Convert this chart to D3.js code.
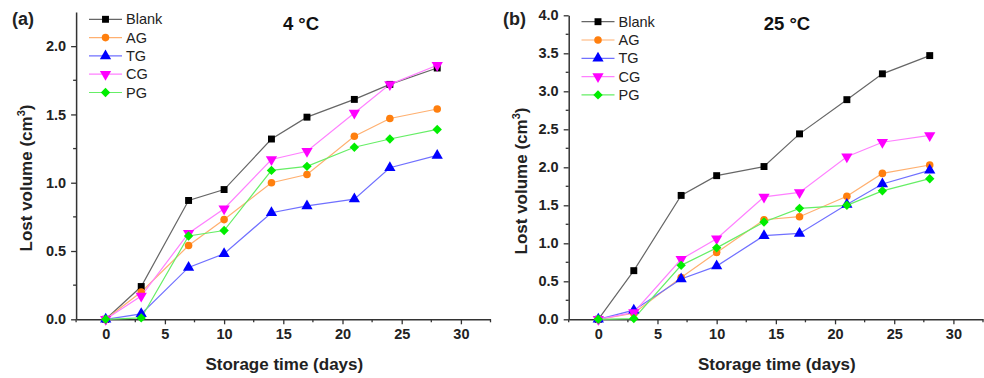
<!DOCTYPE html>
<html>
<head>
<meta charset="utf-8">
<script src="https://cdn.jsdelivr.net/npm/d3@7"></script>
<style>
  body { margin: 0; background: #fff; }
  svg { font-family: Arial, "Liberation Sans", sans-serif; }
</style>
</head>
<body>
<svg id="chart" width="984" height="378"></svg>
<script>
// storage days
const days = [0, 3, 7, 10, 14, 17, 21, 24, 28];
const seriesNames = ["Blank", "AG", "TG", "CG", "PG"];

// 4 °C
const blank4 = [0, 0.24, 0.87, 0.95, 1.32, 1.48, 1.61, 1.72, 1.84];
const ag4    = [0, 0.20, 0.54, 0.73, 1.00, 1.06, 1.34, 1.47, 1.54];
const tg4    = [0, 0.04, 0.38, 0.48, 0.78, 0.83, 0.88, 1.11, 1.20];
const cg4    = [0, 0.17, 0.63, 0.81, 1.17, 1.23, 1.51, 1.72, 1.86];
const pg4    = [0, 0.01, 0.61, 0.65, 1.09, 1.12, 1.26, 1.32, 1.39];

// 25 °C
const blank25 = [0, 0.64, 1.63, 1.89, 2.01, 2.44, 2.89, 3.23, 3.47];
const ag25    = [0, 0.08, 0.55, 0.88, 1.31, 1.35, 1.62, 1.92, 2.03];
const tg25    = [0, 0.12, 0.53, 0.70, 1.10, 1.13, 1.51, 1.78, 1.96];
const cg25    = [0, 0.09, 0.79, 1.06, 1.61, 1.67, 2.14, 2.33, 2.42];
const pg25    = [0, 0.01, 0.71, 0.94, 1.28, 1.46, 1.50, 1.69, 1.85];

const xTicks = [0, 5, 10, 15, 20, 25, 30];
const yTicks4 = [0, 0.5, 1.0, 1.5, 2.0];
const yTicks25 = [0, 0.5, 1.0, 1.5, 2.0, 2.5, 3.0, 3.5, 4.0];

const colors = ["#000000", "#ff7f0e", "#0000ff", "#ff00ff", "#00ee00"];
const lineColors = ["#666666", "#ffb070", "#7070ff", "#ff80ff", "#66ee66"];

const svg = d3.select("#chart");

function markerPath(k) {
  const types = [d3.symbolSquare, d3.symbolCircle, d3.symbolTriangle, d3.symbolTriangle, d3.symbolDiamond2];
  const sizes = [48, 45, 55, 55, 56];
  return d3.symbol().type(types[k]).size(sizes[k])();
}

function markerTransform(k, px, py) {
  // CG uses a downward triangle
  return `translate(${px},${py})` + (k === 3 ? " scale(1,-1)" : "");
}

function drawPanel(opt) {
  const g = svg.append("g");
  const x = d3.scaleLinear().domain([-2.5, 32.5]).range([opt.left, opt.right]);
  const y = d3.scaleLinear().domain([0, opt.ymax]).range([319.3, opt.top]);

  // x axis
  const xAxis = g.append("g")
    .attr("transform", `translate(0,${y(0)})`)
    .call(d3.axisBottom(x).tickValues(xTicks).tickSize(5).tickSizeOuter(0).tickPadding(4));
  xAxis.append("g").selectAll("line")
    .data(d3.range(-2.5, 33, 5))
    .join("line")
    .attr("x1", d => x(d)).attr("x2", d => x(d))
    .attr("y1", 0).attr("y2", 3)
    .attr("stroke", "#333").attr("stroke-width", 1.3);

  // y axis
  const yAxis = g.append("g")
    .attr("transform", `translate(${x(-2.5)},0)`)
    .call(d3.axisLeft(y).tickValues(opt.yTicks).tickFormat(d3.format(".1f")).tickSize(5).tickSizeOuter(0).tickPadding(5));
  yAxis.append("g").selectAll("line")
    .data(d3.range(0.25, opt.ymax, 0.5))
    .join("line")
    .attr("x1", 0).attr("x2", -3)
    .attr("y1", d => y(d)).attr("y2", d => y(d))
    .attr("stroke", "#333").attr("stroke-width", 1.3);

  g.selectAll(".domain").attr("stroke", "#333").attr("stroke-width", 1.5);
  g.selectAll(".tick line").attr("stroke", "#333").attr("stroke-width", 1.3);
  g.selectAll(".tick text")
    .attr("font-size", 14.5).attr("font-weight", "bold").attr("fill", "#222")
    .attr("font-family", "Arial, 'Liberation Sans', sans-serif");

  // labels
  g.append("text")
    .attr("x", (opt.left + opt.right) / 2 + 1).attr("y", 370)
    .attr("text-anchor", "middle").attr("font-size", 17).attr("font-weight", "bold").attr("fill", "#222")
    .text("Storage time (days)");

  const yl = g.append("text")
    .attr("transform", `translate(${opt.ylabX},${opt.ylabY}) rotate(-90)`)
    .attr("text-anchor", "middle").attr("font-size", 17).attr("font-weight", "bold").attr("fill", "#222");
  yl.append("tspan").text("Lost volume (cm");
  yl.append("tspan").attr("font-size", 11).attr("dy", -7).text("3");
  yl.append("tspan").attr("dy", 7).text(")");

  g.append("text")
    .attr("x", opt.tagX).attr("y", 25)
    .attr("font-size", 18).attr("font-weight", "bold").attr("fill", "#222")
    .text(opt.tag);

  g.append("text")
    .attr("x", opt.titleX).attr("y", 30)
    .attr("text-anchor", "middle").attr("font-size", 18.5).attr("font-weight", "bold").attr("fill", "#111")
    .text(opt.title);

  const line = d3.line().x((d, i) => x(days[i])).y(d => y(d));

  opt.series.forEach((vals, k) => {
    g.append("path")
      .attr("d", line(vals))
      .attr("fill", "none")
      .attr("stroke", lineColors[k])
      .attr("stroke-width", 1.2);
  });

  opt.series.forEach((vals, k) => {
    g.append("g").selectAll("path")
      .data(vals)
      .join("path")
      .attr("transform", (d, i) => markerTransform(k, x(days[i]), y(d)))
      .attr("d", markerPath(k))
      .attr("fill", colors[k]);
  });

  // legend
  const lg = g.append("g");
  seriesNames.forEach((name, k) => {
    const ly = opt.legY + k * 18.3;
    lg.append("line")
      .attr("x1", opt.legX).attr("x2", opt.legX + 33)
      .attr("y1", ly).attr("y2", ly)
      .attr("stroke", lineColors[k]).attr("stroke-width", 1.2);
    lg.append("path")
      .attr("transform", markerTransform(k, opt.legX + 16.5, ly))
      .attr("d", markerPath(k))
      .attr("fill", colors[k]);
    lg.append("text")
      .attr("x", opt.legX + 37).attr("y", ly + 5)
      .attr("font-size", 14.5).attr("fill", "#222")
      .text(name);
  });
}

drawPanel({
  left: 76.1, right: 490.5, top: 12, ymax: 2.25, yTicks: yTicks4,
  series: [blank4, ag4, tg4, cg4, pg4],
  tag: "(a)", tagX: 12, title: "4 °C", titleX: 301,
  ylabX: 32, ylabY: 178, legX: 89, legY: 19.3
});

drawPanel({
  left: 568.7, right: 983, top: 15.3, ymax: 4.0, yTicks: yTicks25,
  series: [blank25, ag25, tg25, cg25, pg25],
  tag: "(b)", tagX: 503, title: "25 °C", titleX: 787,
  ylabX: 527, ylabY: 181, legX: 581.5, legY: 21.7
});
</script>
</body>
</html>
